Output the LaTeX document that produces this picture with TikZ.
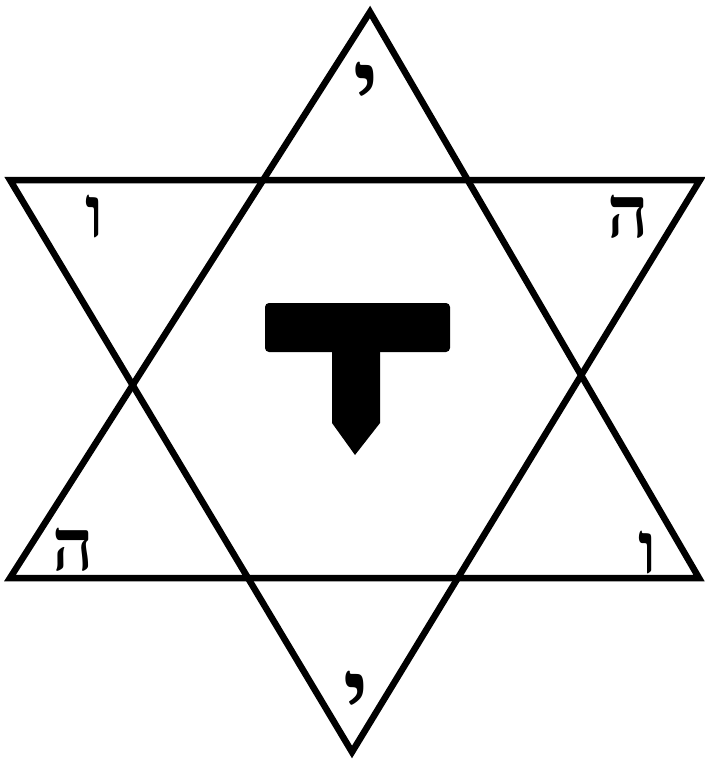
\documentclass[tikz,border=0pt]{standalone}
\usepackage{fontspec}
\newfontfamily\hebfont[Script=Hebrew]{Liberation Serif}
\TeXXeTstate=1

\begin{document}
\begin{tikzpicture}[x=1pt,y=-1pt,
                    edge/.style={draw,line width=6.5pt,line join=miter},
                    letter/.style={inner sep=0pt,font=\hebfont\bfseries\fontsize{72}{72}\selectfont},
                    bigletter/.style={letter,font=\hebfont\bfseries\fontsize{96}{96}\selectfont},
                    tee/.style={fill=black}
]
\useasboundingbox (0,0) rectangle (704,762);
% upward triangle
\coordinate (ut) at (370,12);
\coordinate (ul) at (10,578);
\coordinate (ur) at (699,578);
% downward triangle
\coordinate (dl) at (10,180);
\coordinate (dr) at (700,180);
\coordinate (db) at (352,752);
\draw[edge] (ut) -- (ur) -- (ul) -- cycle;
\draw[edge] (dl) -- (dr) -- (db) -- cycle;
% letters in the points
\node[bigletter] (yt) at (366,90) {\beginR י\endR};
\node[letter] (vl) at (95,217) {\beginR ו\endR};
\node[letter] (hr) at (628,217) {\beginR ה\endR};
\node[letter] (hl) at (73,550) {\beginR ה\endR};
\node[letter] (vr) at (648,553) {\beginR ו\endR};
\node[bigletter] (yb) at (356,699) {\beginR י\endR};
% the centre sign
\fill[tee,rounded corners=4pt] (265,303) rectangle (450,352);
\fill[tee] (332,345) -- (380,345) -- (380,423) -- (355,455) -- (332,423) -- cycle;
\end{tikzpicture}
\end{document}
